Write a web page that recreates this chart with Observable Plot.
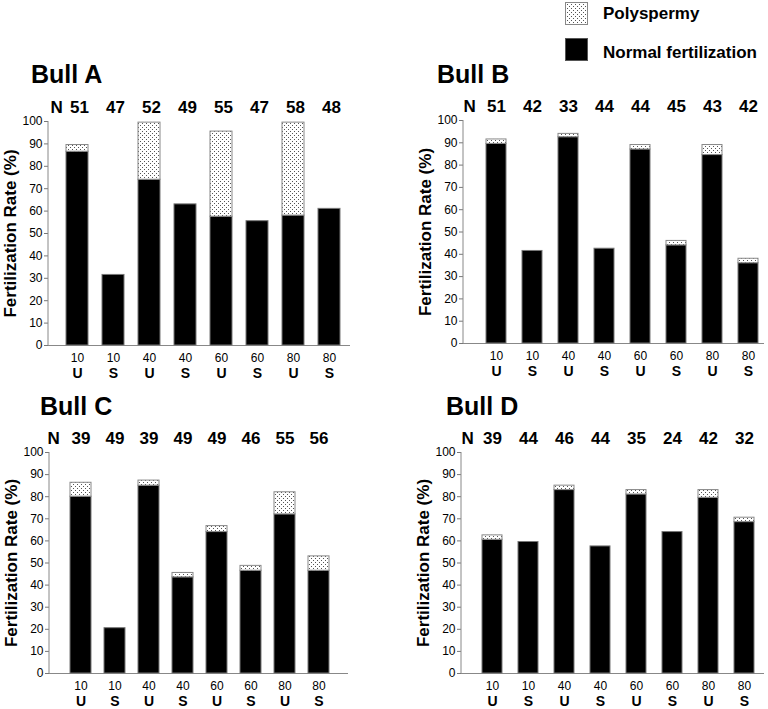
<!DOCTYPE html>
<html><head><meta charset="utf-8">
<script src="https://cdn.jsdelivr.net/npm/d3@7"></script>
<script src="https://cdn.jsdelivr.net/npm/@observablehq/plot@0.6"></script>
<style>
body{margin:0;background:#fff;font-family:"Liberation Sans",Arial,sans-serif;}
#root{position:relative;width:768px;height:709px;overflow:hidden;background:#fff;}
.title{position:absolute;font-weight:bold;font-size:25px;line-height:25px;white-space:nowrap;color:#000;}
.leg{position:absolute;font-weight:bold;font-size:17px;line-height:17px;white-space:nowrap;color:#000;}
.sw{position:absolute;}
.panel{position:absolute;}
</style></head><body>
<svg width="0" height="0" style="position:absolute"><defs>
<pattern id="dots" width="4" height="4" patternUnits="userSpaceOnUse">
<rect width="4" height="4" fill="#fff"/><rect x="0" y="0" width="1" height="1" fill="#555"/><rect x="2" y="2" width="1" height="1" fill="#555"/>
</pattern></defs></svg>
<div id="root"></div>
<script>
// ---- data ----
const doses = ["10","10","40","40","60","60","80","80"];
const treatments = ["U","S","U","S","U","S","U","S"];
const categories = doses.map((d, i) => d + treatments[i]);
const bullNames = ["Bull A", "Bull B", "Bull C", "Bull D"];
const legendLabels = ["Polyspermy", "Normal fertilization"];
const yLabel = "Fertilization Rate (%)";
const yTicks = [0,10,20,30,40,50,60,70,80,90,100];

const nA = [51,47,52,49,55,47,58,48];
const normalA = [86.5,31.5,74,63,57.5,55.5,58,61];
const polyA = [3,0,25.5,0,38,0,41.5,0];

const nB = [51,42,33,44,44,45,43,42];
const normalB = [89.5,41.5,92.5,42.5,87,44,84.5,36];
const polyB = [2,0,1.5,0,2,2,4.5,2];

const nC = [39,49,39,49,49,46,55,56];
const normalC = [80,20.5,85,43.5,64,46.5,72,46.5];
const polyC = [6.3,0,2.3,2,2.7,2.2,10,6.5];

const nD = [39,44,46,44,35,24,42,32];
const normalD = [60.5,59.5,83,57.5,81,64,79.5,68.5];
const polyD = [2,0,2,0,2,0,3.5,2];

// ---- layout ----
const FONT = '"Liberation Sans", Arial, sans-serif';
const root = document.getElementById("root");

function addDiv(cls, text, left, top) {
  const d = document.createElement("div");
  d.className = cls; d.textContent = text;
  d.style.left = left + "px"; d.style.top = top + "px";
  root.appendChild(d);
  return d;
}

function panel(N, normal, poly, cfg) {
  const rows = categories.map((c, i) => ({
    cat: c, dose: doses[i], trt: treatments[i], n: String(N[i]),
    normal: normal[i], poly: poly[i], top: normal[i] + poly[i]
  }));
  const leftLine = (index, scales, values, dims) => {
    return d3.create("svg:line")
      .attr("x1", dims.marginLeft).attr("x2", dims.marginLeft)
      .attr("y1", scales.y(100)).attr("y2", scales.y(0))
      .attr("stroke", "#888").node();
  };
  const chart = Plot.plot({
    width: 48 + cfg.W + 4, height: 40 + cfg.H + 40,
    marginLeft: 48, marginRight: 4, marginTop: 40, marginBottom: 40,
    style: {background: "transparent", fontFamily: FONT, overflow: "visible", color: "black"},
    x: {type: "band", domain: categories, paddingInner: cfg.p, paddingOuter: cfg.o, align: cfg.a, axis: null},
    y: {domain: [0, 100], axis: null},
    marks: [
      Plot.axisY({ticks: yTicks, tickSize: 4, tickPadding: 2, fontSize: 12, label: null, stroke: "#777", fill: "black"}),
      leftLine,
      Plot.ruleY([0], {stroke: "#888"}),
      Plot.barY(rows, {x: "cat", y1: 0, y2: "normal", fill: "black", stroke: "#777", strokeWidth: 1}),
      Plot.barY(rows.filter(d => d.poly > 0), {x: "cat", y1: "normal", y2: "top", fill: "url(#dots)", stroke: "#888", strokeWidth: 1}),
      Plot.text(rows, {x: "cat", text: "dose", frameAnchor: "bottom", lineAnchor: "bottom", dy: 16, fontSize: 12}),
      Plot.text(rows, {x: "cat", text: "trt", frameAnchor: "bottom", lineAnchor: "bottom", dy: 32, fontSize: 14, fontWeight: "bold"}),
      Plot.text(rows, {x: "cat", text: "n", frameAnchor: "top", lineAnchor: "bottom", dy: -9, dx: cfg.ndx, fontSize: 17, fontWeight: "bold"}),
      Plot.text(["N"], {text: d => d, frameAnchor: "top-left", textAnchor: "start", lineAnchor: "bottom", dy: -9, dx: cfg.Ndx, fontSize: 17, fontWeight: "bold"}),
      Plot.text([yLabel], {text: d => d, frameAnchor: "left", rotate: -90, dx: -38, textAnchor: "middle", lineAnchor: "middle", fontSize: 17, fontWeight: "bold"})
    ]
  });
  chart.classList.add("panel");
  chart.style.position = "absolute";
  chart.style.left = cfg.left + "px";
  chart.style.top = cfg.top + "px";
  root.appendChild(chart);
  addDiv("title", cfg.title, cfg.tx, cfg.ty);
}

panel(nA, normalA, polyA, {title: bullNames[0], left: 0, top: 81, W: 302, H: 224, p: 0.39, o: 0.378, a: 0.64, ndx: 2, Ndx: 2, tx: 31, ty: 62});
panel(nB, normalB, polyB, {title: bullNames[1], left: 415, top: 80, W: 301, H: 223, p: 0.455, o: 0.33, a: 0.79, ndx: 0, Ndx: 0, tx: 437, ty: 62});
panel(nC, normalC, polyC, {title: bullNames[2], left: 1, top: 412, W: 299, H: 221, p: 0.39, o: 0.53, a: 0.52, ndx: 0, Ndx: -2, tx: 40, ty: 394});
panel(nD, normalD, polyD, {title: bullNames[3], left: 413, top: 412, W: 303, H: 221, p: 0.435, o: 0.39, a: 0.70, ndx: 0, Ndx: 0, tx: 446, ty: 394});

// legend
function swatch(fill, stroke, top) {
  const s = d3.create("svg").attr("class", "sw").attr("width", 24).attr("height", 24)
    .style("left", "565px").style("top", top + "px");
  s.append("rect").attr("x", 0.5).attr("y", 0.5).attr("width", 22).attr("height", 22)
    .attr("fill", fill).attr("stroke", stroke);
  root.appendChild(s.node());
}
swatch("url(#dots)", "#888", 2);
swatch("black", "#555", 38);
addDiv("leg", legendLabels[0], 603, 5);
addDiv("leg", legendLabels[1], 603, 44);
</script>
</body></html>
